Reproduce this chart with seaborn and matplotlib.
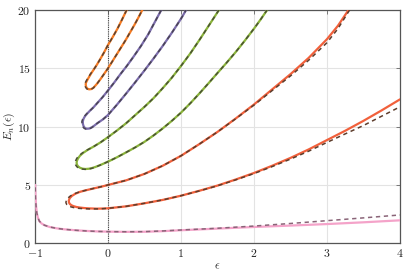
import matplotlib
matplotlib.use("Agg")
import matplotlib.pyplot as plt
import seaborn as sns
import pandas as pd

# ---------------- data ----------------
# orange pair (E=15, 17 at eps=0)
eps_orange = [0.256, 0.19, 0.13, 0.065, 0.0, -0.055, -0.11, -0.155, -0.2, -0.235, -0.265, -0.29, -0.303, -0.305, -0.30, -0.285, -0.26, -0.23, -0.2, -0.15, -0.1, -0.05, 0.0, 0.06, 0.12, 0.18, 0.24, 0.3, 0.36, 0.415, 0.47]
E_orange = [20.0, 19.15, 18.4, 17.68, 17.0, 16.35, 15.75, 15.28, 14.85, 14.52, 14.2, 13.92, 13.75, 13.6, 13.42, 13.27, 13.2, 13.22, 13.33, 13.68, 14.1, 14.55, 15.0, 15.6, 16.2, 16.8, 17.4, 18.05, 18.7, 19.33, 20.0]
eps_orange_d = [0.256, 0.19, 0.13, 0.065, 0.0, -0.055, -0.11, -0.155, -0.2, -0.24, -0.272, -0.298, -0.312, -0.316, -0.31, -0.292, -0.265, -0.232, -0.2, -0.15, -0.1, -0.05, 0.0, 0.06, 0.12, 0.18, 0.24, 0.3, 0.36, 0.415, 0.47]
E_orange_d = [20.0, 19.15, 18.4, 17.68, 17.0, 16.35, 15.75, 15.28, 14.85, 14.52, 14.2, 13.92, 13.75, 13.6, 13.42, 13.25, 13.17, 13.2, 13.32, 13.68, 14.1, 14.55, 15.0, 15.6, 16.2, 16.8, 17.4, 18.05, 18.7, 19.33, 20.0]

# purple pair (E=11, 13)
eps_purple = [0.73, 0.64, 0.55, 0.45, 0.35, 0.26, 0.17, 0.085, 0.0, -0.075, -0.15, -0.2, -0.25, -0.285, -0.315, -0.335, -0.345, -0.343, -0.333, -0.315, -0.29, -0.255, -0.22, -0.185, -0.145, -0.07, 0.0, 0.125, 0.25, 0.375, 0.5, 0.625, 0.75, 0.875, 1.0, 1.07]
E_purple = [20.0, 18.95, 17.9, 16.9, 16.0, 15.22, 14.5, 13.78, 13.1, 12.52, 12.0, 11.65, 11.35, 11.12, 10.9, 10.68, 10.45, 10.22, 10.02, 9.88, 9.82, 9.84, 9.95, 10.1, 10.3, 10.62, 11.0, 11.9, 12.85, 13.82, 14.82, 15.85, 16.92, 18.05, 19.25, 20.0]
eps_purple_d = [0.73, 0.64, 0.55, 0.45, 0.35, 0.26, 0.17, 0.085, 0.0, -0.075, -0.15, -0.2, -0.25, -0.29, -0.322, -0.345, -0.357, -0.356, -0.345, -0.325, -0.298, -0.26, -0.222, -0.186, -0.145, -0.07, 0.0, 0.125, 0.25, 0.375, 0.5, 0.625, 0.75, 0.875, 1.0, 1.07]
E_purple_d = [20.0, 18.95, 17.9, 16.9, 16.0, 15.22, 14.5, 13.78, 13.1, 12.52, 12.0, 11.65, 11.35, 11.12, 10.9, 10.68, 10.45, 10.22, 10.0, 9.85, 9.78, 9.8, 9.92, 10.08, 10.3, 10.62, 11.0, 11.9, 12.85, 13.82, 14.82, 15.85, 16.92, 18.05, 19.25, 20.0]

# green pair (E=7, 9)
eps_green = [1.52, 1.39, 1.26, 1.13, 1.0, 0.875, 0.75, 0.625, 0.5, 0.375, 0.25, 0.125, 0.0, -0.1, -0.2, -0.28, -0.34, -0.385, -0.41, -0.425, -0.43, -0.425, -0.41, -0.385, -0.35, -0.31, -0.265, -0.22, -0.17, -0.09, 0.0, 0.125, 0.25, 0.375, 0.5, 0.625, 0.75, 0.875, 1.0, 1.13, 1.26, 1.38, 1.5, 1.625, 1.75, 1.875, 2.0, 2.09, 2.18]
E_green = [20.0, 18.75, 17.5, 16.3, 15.2, 14.2, 13.3, 12.45, 11.7, 11.0, 10.3, 9.68, 9.1, 8.66, 8.28, 8.0, 7.75, 7.5, 7.28, 7.08, 6.9, 6.74, 6.6, 6.48, 6.4, 6.37, 6.39, 6.45, 6.55, 6.75, 7.0, 7.38, 7.8, 8.23, 8.7, 9.25, 9.85, 10.5, 11.2, 12.02, 12.9, 13.74, 14.6, 15.48, 16.4, 17.38, 18.4, 19.18, 20.0]
eps_green_d = [1.52, 1.39, 1.26, 1.13, 1.0, 0.875, 0.75, 0.625, 0.5, 0.375, 0.25, 0.125, 0.0, -0.1, -0.2, -0.285, -0.35, -0.4, -0.428, -0.443, -0.448, -0.443, -0.428, -0.4, -0.36, -0.315, -0.267, -0.22, -0.17, -0.09, 0.0, 0.125, 0.25, 0.375, 0.5, 0.625, 0.75, 0.875, 1.0, 1.13, 1.26, 1.38, 1.5, 1.625, 1.75, 1.875, 2.0, 2.09, 2.18]
E_green_d = [20.0, 18.75, 17.5, 16.3, 15.2, 14.2, 13.3, 12.45, 11.7, 11.0, 10.3, 9.68, 9.1, 8.66, 8.28, 8.0, 7.75, 7.5, 7.28, 7.08, 6.9, 6.72, 6.57, 6.45, 6.37, 6.34, 6.36, 6.43, 6.54, 6.75, 7.0, 7.38, 7.8, 8.23, 8.7, 9.25, 9.85, 10.5, 11.2, 12.02, 12.9, 13.74, 14.6, 15.48, 16.4, 17.38, 18.4, 19.18, 20.0]

# red pair (E=3, 5)
eps_red = [3.295, 3.15, 3.0, 2.75, 2.5, 2.25, 2.0, 1.75, 1.5, 1.25, 1.0, 0.75, 0.5, 0.25, 0.0, -0.1, -0.2, -0.3, -0.38, -0.447, -0.495, -0.525, -0.537, -0.535, -0.522, -0.5, -0.47, -0.43, -0.38, -0.32, -0.25, -0.15, -0.07, 0.0, 0.25, 0.5, 0.75, 1.0, 1.25, 1.5, 1.75, 2.0, 2.25, 2.5, 2.75, 3.0, 3.25, 3.5, 3.75, 4.0]
E_red = [20.0, 18.65, 17.5, 15.9, 14.5, 13.2, 11.9, 10.7, 9.55, 8.5, 7.5, 6.65, 5.95, 5.4, 5.0, 4.84, 4.7, 4.55, 4.42, 4.25, 4.06, 3.86, 3.66, 3.5, 3.37, 3.26, 3.18, 3.11, 3.06, 3.02, 2.99, 2.97, 2.98, 3.0, 3.17, 3.43, 3.72, 4.08, 4.5, 4.95, 5.47, 6.03, 6.65, 7.32, 8.05, 8.85, 9.65, 10.5, 11.4, 12.34]
eps_red_d = [3.31, 3.15, 3.0, 2.75, 2.5, 2.25, 2.0, 1.75, 1.5, 1.25, 1.0, 0.75, 0.5, 0.25, 0.0, -0.1, -0.2, -0.3, -0.385, -0.46, -0.515, -0.552, -0.572, -0.576, -0.565, -0.54, -0.505, -0.46, -0.405, -0.34, -0.26, -0.15, -0.07, 0.0, 0.25, 0.5, 0.75, 1.0, 1.25, 1.5, 1.75, 2.0, 2.25, 2.5, 2.75, 3.0, 3.25, 3.5, 3.75, 4.0]
E_red_d = [20.0, 18.4, 17.2, 15.7, 14.35, 13.1, 11.85, 10.68, 9.55, 8.5, 7.5, 6.65, 5.95, 5.4, 5.0, 4.84, 4.7, 4.55, 4.42, 4.25, 4.06, 3.86, 3.66, 3.48, 3.33, 3.21, 3.12, 3.05, 3.0, 2.97, 2.95, 2.95, 2.97, 3.0, 3.17, 3.43, 3.72, 4.08, 4.49, 4.93, 5.44, 5.98, 6.58, 7.22, 7.9, 8.65, 9.38, 10.1, 10.9, 11.7]

# pink ground state (E=1)
eps_pink = [-0.997, -0.993, -0.985, -0.975, -0.96, -0.94, -0.91, -0.87, -0.8, -0.7, -0.6, -0.45, -0.3, -0.15, 0.0, 0.25, 0.5, 0.75, 1.0, 1.5, 2.0, 2.5, 3.0, 3.5, 4.0]
E_pink = [5.0, 4.0, 3.2, 2.6, 2.2, 1.9, 1.7, 1.55, 1.4, 1.28, 1.2, 1.12, 1.06, 1.02, 1.0, 0.98, 0.99, 1.04, 1.12, 1.26, 1.4, 1.52, 1.65, 1.8, 1.97]
eps_pink_d = [-0.997, -0.993, -0.985, -0.975, -0.96, -0.94, -0.91, -0.87, -0.8, -0.7, -0.6, -0.45, -0.3, -0.15, 0.0, 0.25, 0.5, 0.75, 1.0, 1.5, 2.0, 2.5, 3.0, 3.5, 4.0]
E_pink_d = [4.8, 3.9, 3.15, 2.6, 2.2, 1.9, 1.7, 1.55, 1.4, 1.28, 1.2, 1.12, 1.06, 1.02, 1.0, 0.99, 1.0, 1.06, 1.14, 1.29, 1.48, 1.7, 1.94, 2.18, 2.43]

x_ticks = [-1, 0, 1, 2, 3, 4]
y_ticks = [0, 5, 10, 15, 20]

# ---------------- style ----------------
sns.set_style("white")
plt.rcParams.update({
    "font.family": "serif",
    "font.serif": ["cmr10"],
    "mathtext.fontset": "cm",
    "axes.formatter.use_mathtext": True,
    "axes.unicode_minus": True,
})

fig = plt.figure(figsize=(4.15, 2.72), dpi=100)
ax = fig.add_axes([0.0843, 0.1055, 0.8795, 0.8577])

curves = [
    (eps_pink, E_pink, eps_pink_d, E_pink_d, "#f4a3c9", "#8a6478"),
    (eps_red, E_red, eps_red_d, E_red_d, "#f1603b", "#5e3d2c"),
    (eps_green, E_green, eps_green_d, E_green_d, "#8ab43a", "#4a5034"),
    (eps_purple, E_purple, eps_purple_d, E_purple_d, "#7b6cab", "#4a4454"),
    (eps_orange, E_orange, eps_orange_d, E_orange_d, "#f47a22", "#5a4232"),
]

for ex, ey, dx, dy, c_solid, c_dash in curves:
    df_s = pd.DataFrame({"eps": ex, "E": ey})
    df_d = pd.DataFrame({"eps": dx, "E": dy})
    sns.lineplot(data=df_s, x="eps", y="E", sort=False, estimator=None,
                 color=c_solid, linewidth=1.6, ax=ax, zorder=3)
    sns.lineplot(data=df_d, x="eps", y="E", sort=False, estimator=None,
                 color=c_dash, linewidth=1.1, linestyle=(0, (2.8, 2.4)), ax=ax, zorder=4)

ax.axvline(0, color="#444444", linestyle=(0, (1, 1)), linewidth=0.8, zorder=2)

ax.set_xlim(-1, 4)
ax.set_ylim(0, 20)
ax.set_xticks(x_ticks)
ax.set_yticks(y_ticks)
ax.grid(True, color="#e3e3e3", linewidth=0.8, zorder=0)
ax.set_axisbelow(True)

for s in ax.spines.values():
    s.set_visible(True)
    s.set_color("#555555")
    s.set_linewidth(0.9)

ax.tick_params(axis="both", which="both", direction="in", length=3, width=0.6,
               color="#666666", labelsize=8.5, pad=3, top=True, right=True,
               labelcolor="#222222")

ax.set_xlabel(r"$\epsilon$", fontsize=8.5, labelpad=2)
ax.set_ylabel(r"$E_n(\epsilon)$", fontsize=8.5, labelpad=0.5)

fig.savefig("out.png", dpi=100)
